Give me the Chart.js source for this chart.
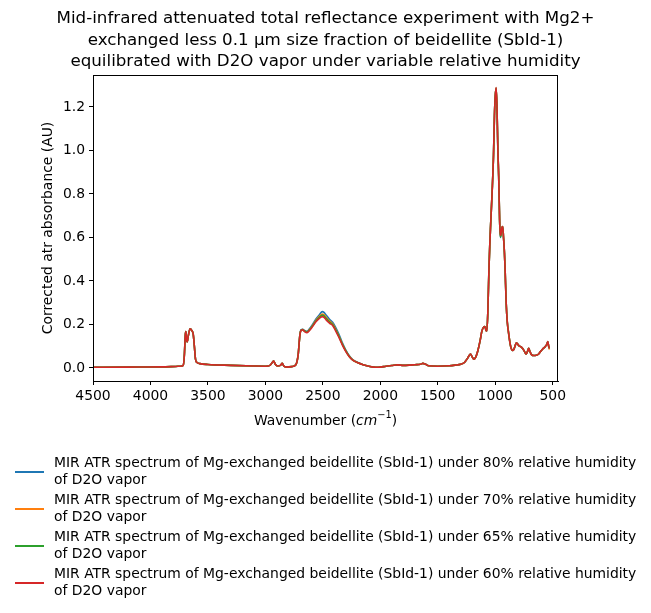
<!DOCTYPE html>
<html lang="en">
<head>
<meta charset="UTF-8">
<title>MIR ATR Mg-beidellite D2O</title>
<style>
  html, body { margin: 0; padding: 0; background: #fff; }
</style>
</head>
<body>
<canvas id="myChart" width="651" height="613"></canvas>
<script src="https://cdn.jsdelivr.net/npm/chart.js"></script>
<script>
// wavenumbers (cm-1), shared by the four spectra
const wavenumbers = [
  4500, 4200, 3900, 3780, 3740, 3715, 3705, 3697, 3692, 3686,
  3680, 3670, 3655, 3640, 3628, 3618, 3608, 3595, 3570, 3500,
  3300, 3100, 3000, 2960, 2940, 2928, 2915, 2895, 2870, 2853,
  2840, 2815, 2770, 2735, 2715, 2700, 2690, 2675, 2660, 2640,
  2620, 2590, 2560, 2530, 2505, 2490, 2470, 2440, 2415, 2390,
  2360, 2330, 2300, 2270, 2240, 2200, 2150, 2100, 2040, 2000,
  1950, 1900, 1850, 1800, 1750, 1700, 1650, 1630, 1610, 1580,
  1500, 1400, 1350, 1300, 1268, 1240, 1216, 1200, 1187, 1170,
  1152, 1130, 1117, 1100, 1090, 1080, 1073, 1065, 1055, 1048,
  1040, 1027, 1015, 1007, 1000, 992, 985, 977, 970, 962,
  956, 950, 942, 935, 928, 920, 914, 905, 895, 885,
  870, 860, 850, 838, 825, 815, 800, 789, 775, 760,
  745, 731, 720, 709, 698, 683, 665, 644, 625, 607,
  585, 566, 550, 543, 535, 529
];

// absorbance, 80% RH
const rh80 = [
  0.003, 0.004, 0.005, 0.007, 0.008, 0.012, 0.06, 0.15, 0.167, 0.13,
  0.12, 0.15, 0.18, 0.172, 0.155, 0.10, 0.04, 0.025, 0.02, 0.016,
  0.012, 0.009, 0.008, 0.012, 0.025, 0.032, 0.018, 0.009, 0.012, 0.021,
  0.008, 0.004, 0.006, 0.015, 0.06, 0.152, 0.175, 0.178, 0.172, 0.168,
  0.178, 0.2, 0.225, 0.245, 0.259, 0.256, 0.242, 0.223, 0.21, 0.188,
  0.155, 0.115, 0.082, 0.056, 0.038, 0.026, 0.015, 0.008, 0.003, 0.004,
  0.008, 0.011, 0.014, 0.012, 0.013, 0.015, 0.017, 0.021, 0.018, 0.01,
  0.008, 0.01, 0.013, 0.017, 0.025, 0.045, 0.064, 0.05, 0.04, 0.05,
  0.078, 0.13, 0.168, 0.188, 0.19, 0.172, 0.17, 0.25, 0.45, 0.56,
  0.66, 0.81, 0.98, 1.16, 1.25, 1.282, 1.2, 1.0, 0.88, 0.68,
  0.6, 0.61, 0.643, 0.65, 0.6, 0.53, 0.45, 0.3, 0.21, 0.165,
  0.11, 0.088, 0.08, 0.085, 0.105, 0.116, 0.106, 0.1, 0.097, 0.088,
  0.075, 0.064, 0.075, 0.09, 0.075, 0.06, 0.057, 0.058, 0.063, 0.075,
  0.088, 0.098, 0.11, 0.12, 0.1, 0.09
];

// absorbance, 70% RH
const rh70 = [
  0.003, 0.004, 0.005, 0.007, 0.008, 0.012, 0.06, 0.15, 0.167, 0.13,
  0.12, 0.15, 0.18, 0.172, 0.155, 0.10, 0.04, 0.025, 0.02, 0.016,
  0.012, 0.009, 0.008, 0.012, 0.025, 0.032, 0.018, 0.009, 0.012, 0.021,
  0.008, 0.004, 0.006, 0.015, 0.06, 0.151, 0.173, 0.176, 0.17, 0.165,
  0.174, 0.195, 0.219, 0.237, 0.248, 0.245, 0.232, 0.215, 0.203, 0.18,
  0.147, 0.11, 0.079, 0.054, 0.037, 0.025, 0.015, 0.008, 0.003, 0.004,
  0.008, 0.011, 0.014, 0.012, 0.013, 0.015, 0.017, 0.021, 0.018, 0.01,
  0.008, 0.01, 0.013, 0.017, 0.025, 0.045, 0.064, 0.05, 0.04, 0.05,
  0.078, 0.13, 0.168, 0.188, 0.19, 0.172, 0.17, 0.25, 0.45, 0.56,
  0.66, 0.81, 0.98, 1.16, 1.25, 1.286, 1.2, 1.0, 0.88, 0.68,
  0.605, 0.612, 0.644, 0.65, 0.6, 0.53, 0.45, 0.3, 0.21, 0.165,
  0.11, 0.088, 0.08, 0.085, 0.105, 0.116, 0.106, 0.1, 0.097, 0.088,
  0.075, 0.064, 0.075, 0.09, 0.075, 0.06, 0.057, 0.058, 0.063, 0.075,
  0.088, 0.098, 0.11, 0.12, 0.098, 0.085
];

// absorbance, 65% RH
const rh65 = [
  0.003, 0.004, 0.005, 0.007, 0.008, 0.012, 0.06, 0.15, 0.167, 0.13,
  0.12, 0.15, 0.18, 0.172, 0.155, 0.10, 0.04, 0.025, 0.02, 0.016,
  0.012, 0.009, 0.008, 0.012, 0.025, 0.032, 0.018, 0.009, 0.012, 0.021,
  0.008, 0.004, 0.006, 0.015, 0.06, 0.15, 0.173, 0.176, 0.17, 0.165,
  0.173, 0.193, 0.216, 0.233, 0.243, 0.24, 0.227, 0.21, 0.2, 0.177,
  0.145, 0.108, 0.078, 0.053, 0.036, 0.025, 0.015, 0.008, 0.003, 0.004,
  0.008, 0.011, 0.014, 0.012, 0.013, 0.015, 0.017, 0.021, 0.018, 0.01,
  0.008, 0.01, 0.013, 0.017, 0.025, 0.045, 0.064, 0.05, 0.04, 0.05,
  0.078, 0.13, 0.168, 0.188, 0.19, 0.172, 0.17, 0.25, 0.45, 0.56,
  0.66, 0.81, 0.98, 1.16, 1.25, 1.287, 1.2, 1.0, 0.88, 0.68,
  0.603, 0.612, 0.644, 0.65, 0.6, 0.53, 0.45, 0.3, 0.21, 0.165,
  0.11, 0.088, 0.08, 0.085, 0.105, 0.116, 0.106, 0.1, 0.097, 0.088,
  0.075, 0.064, 0.075, 0.09, 0.075, 0.06, 0.057, 0.058, 0.063, 0.075,
  0.088, 0.098, 0.11, 0.121, 0.1, 0.09
];

// absorbance, 60% RH
const rh60 = [
  0.003, 0.004, 0.005, 0.007, 0.008, 0.012, 0.06, 0.15, 0.167, 0.13,
  0.12, 0.15, 0.18, 0.172, 0.155, 0.10, 0.04, 0.025, 0.02, 0.016,
  0.012, 0.009, 0.008, 0.012, 0.025, 0.032, 0.018, 0.009, 0.012, 0.021,
  0.008, 0.004, 0.006, 0.015, 0.06, 0.15, 0.172, 0.175, 0.168, 0.162,
  0.17, 0.19, 0.212, 0.228, 0.236, 0.233, 0.22, 0.205, 0.195, 0.172,
  0.14, 0.105, 0.075, 0.052, 0.036, 0.025, 0.015, 0.008, 0.003, 0.004,
  0.008, 0.011, 0.014, 0.012, 0.013, 0.015, 0.017, 0.021, 0.018, 0.01,
  0.008, 0.01, 0.013, 0.017, 0.025, 0.045, 0.064, 0.05, 0.04, 0.05,
  0.078, 0.13, 0.168, 0.188, 0.19, 0.172, 0.17, 0.25, 0.45, 0.56,
  0.66, 0.81, 0.98, 1.16, 1.25, 1.289, 1.2, 1.0, 0.88, 0.68,
  0.61, 0.615, 0.645, 0.65, 0.6, 0.53, 0.45, 0.3, 0.21, 0.165,
  0.11, 0.088, 0.08, 0.085, 0.105, 0.116, 0.106, 0.1, 0.097, 0.088,
  0.075, 0.064, 0.075, 0.09, 0.075, 0.06, 0.057, 0.058, 0.063, 0.075,
  0.088, 0.098, 0.11, 0.121, 0.1, 0.09
];

const seriesLabels = [
  "MIR ATR spectrum of Mg-exchanged beidellite (SbId-1) under 80% relative humidity\nof D2O vapor",
  "MIR ATR spectrum of Mg-exchanged beidellite (SbId-1) under 70% relative humidity\nof D2O vapor",
  "MIR ATR spectrum of Mg-exchanged beidellite (SbId-1) under 65% relative humidity\nof D2O vapor",
  "MIR ATR spectrum of Mg-exchanged beidellite (SbId-1) under 60% relative humidity\nof D2O vapor"
];
const seriesColors = ["#1f77b4", "#ff7f0e", "#2ca02c", "#d62728"];

const xTicks = [4500, 4000, 3500, 3000, 2500, 2000, 1500, 1000, 500];
const yTicks = [0.0, 0.2, 0.4, 0.6, 0.8, 1.0, 1.2];

const titleLines = [
  "Mid-infrared attenuated total reflectance experiment with Mg2+",
  "exchanged less 0.1 µm size fraction of beidellite (SbId-1)",
  "equilibrated with D2O vapor under variable relative humidity"
];

const FONT = "'DejaVu Sans', sans-serif";

function toPoints(vals) {
  return wavenumbers.map((w, i) => ({ x: w, y: vals[i] }));
}

const allSeries = [rh80, rh70, rh65, rh60];

// title, frame, x label with mathtext and the two-line legend
const decor = {
  id: 'decor',
  afterDraw(chart) {
    const c = chart.ctx;
    const a = chart.chartArea;
    c.save();

    c.strokeStyle = '#000';
    c.lineWidth = 1;
    c.strokeRect(Math.round(a.left) + 0.5, Math.round(a.top) + 0.5,
      Math.round(a.right - a.left) - 1, Math.round(a.bottom - a.top));

    c.fillStyle = '#000';
    c.textAlign = 'center';
    c.textBaseline = 'middle';
    c.font = "16.7px " + FONT;
    const cx = (a.left + a.right) / 2;
    titleLines.forEach((t, i) => c.fillText(t, cx, 19 + i * 21.3));

    // Wavenumber (cm^-1)
    const parts = [
      { t: "Wavenumber (", f: "13.9px " + FONT, dy: 0 },
      { t: "cm", f: "italic 13.9px " + FONT, dy: 0 },
      { t: "\u22121", f: "9.8px " + FONT, dy: -6 },
      { t: ")", f: "13.9px " + FONT, dy: 0 }
    ];
    let total = 0;
    parts.forEach(p => { c.font = p.f; p.w = c.measureText(p.t).width; total += p.w; });
    let x = cx - total / 2;
    c.textAlign = 'left';
    parts.forEach(p => { c.font = p.f; c.fillText(p.t, x, 421 + p.dy); x += p.w; });

    // legend
    c.font = "13.9px " + FONT;
    seriesLabels.forEach((lab, i) => {
      const yc = 472 + i * 37;
      c.strokeStyle = seriesColors[i];
      c.lineWidth = 2;
      c.beginPath();
      c.moveTo(15, yc);
      c.lineTo(44, yc);
      c.stroke();
      const lines = lab.split("\n");
      c.fillText(lines[0], 54, yc - 8.2);
      c.fillText(lines[1], 54, yc + 8.2);
    });
    c.restore();
  }
};

const ctx = document.getElementById('myChart');
let myChart = new Chart(ctx, {
  type: 'line',
  data: {
    datasets: allSeries.map((vals, i) => ({
      label: seriesLabels[i],
      data: toPoints(vals),
      borderColor: seriesColors[i],
      backgroundColor: seriesColors[i],
      borderWidth: 1.6,
      pointRadius: 0,
      fill: false,
      cubicInterpolationMode: 'monotone',
      order: allSeries.length - 1 - i
    }))
  },
  options: {
    responsive: false,
    animation: false,
    devicePixelRatio: 1,
    layout: { padding: { top: 75, right: 93, bottom: 182, left: 0 } },
    plugins: {
      legend: { display: false },
      title: { display: false },
      tooltip: { enabled: false }
    },
    scales: {
      x: {
        type: 'linear',
        reverse: true,
        min: 454,
        max: 4500,
        afterFit: s => { s.height = 50; },
        afterBuildTicks: s => { s.ticks = xTicks.map(v => ({ value: v })); },
        grid: { display: true, drawOnChartArea: false, tickLength: 4, color: '#000', tickWidth: 1 },
        border: { display: true, color: '#000' },
        ticks: {
          color: '#000',
          padding: 3,
          maxRotation: 0,
          font: { family: FONT, size: 13.9 },
          callback: v => String(v)
        }
      },
      y: {
        type: 'linear',
        min: -0.06,
        max: 1.347,
        afterFit: s => { s.width = 93; },
        afterBuildTicks: s => { s.ticks = yTicks.map(v => ({ value: v })); },
        grid: { display: true, drawOnChartArea: false, tickLength: 4, color: '#000', tickWidth: 1 },
        border: { display: true, color: '#000' },
        ticks: {
          color: '#000',
          padding: 4,
          font: { family: FONT, size: 13.9 },
          callback: v => v.toFixed(1)
        },
        title: {
          display: true,
          text: 'Corrected atr absorbance (AU)',
          color: '#000',
          font: { family: FONT, size: 13.9 },
          padding: { top: 40, bottom: 0 }
        }
      }
    }
  },
  plugins: [decor]
});
</script>
</body>
</html>
